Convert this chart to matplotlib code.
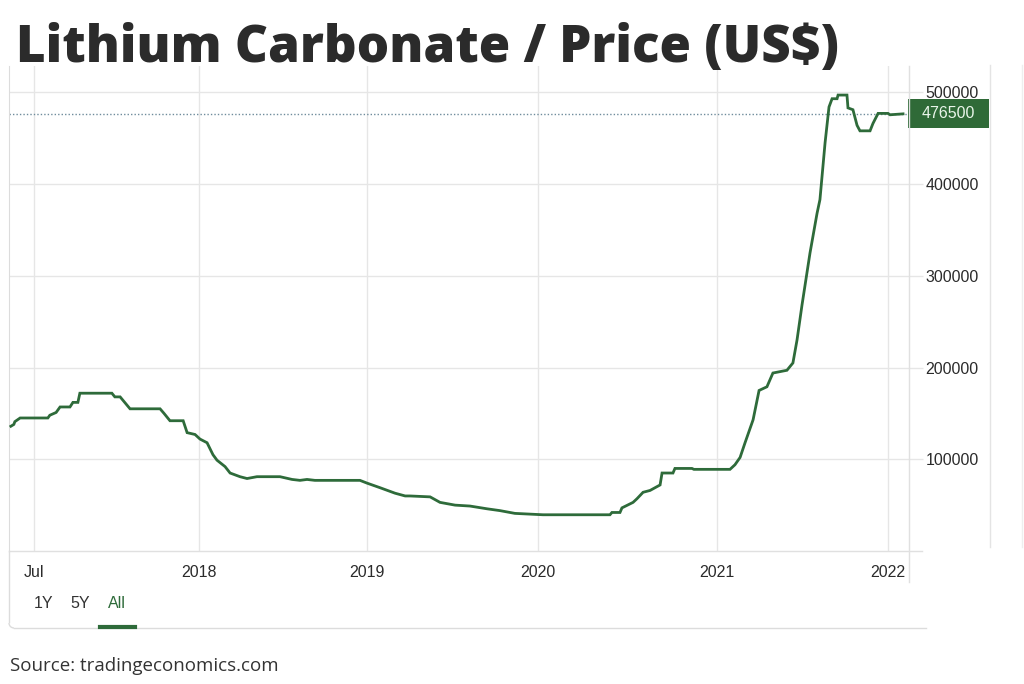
import numpy as np
import matplotlib
matplotlib.use("Agg")
import matplotlib.pyplot as plt
from matplotlib.lines import Line2D
from matplotlib.patches import Rectangle

# ---------------- data ----------------
dates = [2017.430, 2017.439, 2017.442, 2017.458, 2017.542, 2017.548, 2017.567, 2017.579,
         2017.609, 2017.618, 2017.633, 2017.639, 2017.736, 2017.745, 2017.761, 2017.791,
         2017.882, 2017.894, 2017.912, 2017.952, 2017.964, 2017.988, 2018.006, 2018.048,
         2018.083, 2018.107, 2018.155, 2018.185, 2018.244, 2018.286, 2018.345, 2018.482,
         2018.554, 2018.601, 2018.643, 2018.690, 2018.958, 2019.000, 2019.076, 2019.164,
         2019.223, 2019.251, 2019.369, 2019.427, 2019.515, 2019.602, 2019.702, 2019.778,
         2019.865, 2020.028, 2020.402, 2020.413, 2020.458, 2020.469, 2020.531, 2020.553,
         2020.587, 2020.626, 2020.654, 2020.682, 2020.693, 2020.754, 2020.765, 2020.860,
         2020.871, 2021.076, 2021.105, 2021.135, 2021.164, 2021.211, 2021.246, 2021.292,
         2021.327, 2021.409, 2021.444, 2021.468, 2021.497, 2021.544, 2021.585, 2021.602,
         2021.632, 2021.655, 2021.673, 2021.702, 2021.708, 2021.760, 2021.766, 2021.795,
         2021.819, 2021.836, 2021.895, 2021.912, 2021.942, 2022.000, 2022.012, 2022.088]
prices = [136000, 138000, 141000, 145000, 145000, 148000, 151000, 157000,
          157000, 162000, 162000, 172000, 172000, 168000, 168000, 155000,
          155000, 150000, 142000, 142000, 129000, 127000, 122000, 118000,
          105000, 99000, 92000, 85000, 81000, 79000, 81000, 81000,
          78000, 77000, 78000, 77000, 77000, 74000, 69000, 63000,
          60000, 60000, 59000, 53000, 50000, 49000, 46000, 44000,
          41000, 39500, 39500, 42000, 42000, 47000, 53000, 57000,
          64000, 66000, 69000, 72000, 85000, 85000, 90000, 90000,
          89000, 89000, 94000, 102000, 118000, 143000, 175000, 179000,
          194000, 197000, 205000, 230000, 268000, 325000, 368000, 383000,
          445000, 484000, 493000, 493000, 497000, 497000, 483000, 481000,
          464000, 458000, 458000, 466000, 477000, 477000, 475500, 476500]

tick_years = [2017.5, 2018, 2019, 2020, 2021, 2022]
tick_labels = ["Jul", "2018", "2019", "2020", "2021", "2022"]
y_ticks = [100000, 200000, 300000, 400000, 500000]
last_price = 476500
title = "Lithium Carbonate / Price (US$)"
source = "Source: tradingeconomics.com"
ranges = ["1Y", "5Y", "All"]

# chart's (non-uniform) time axis: year -> horizontal position
warp_years = [2016.5, 2017.5, 2018, 2019, 2020, 2021, 2022, 2023]
warp_pos = [-296, 34, 199, 367, 538, 717, 888, 1059]

GREEN = "#2e6b3a"
BOX_GREEN = "#2f6a37"
GRID = "#e6e6e6"
TEXT = "#2b2b2b"
SANS = ["Liberation Sans", "DejaVu Sans"]

W, H = 1024, 684
fig = plt.figure(figsize=(W / 100, H / 100), dpi=100)
fig.patch.set_facecolor("white")


def fx(x):
    return x / W


def fy(y):
    return 1 - y / H


# axes area in pixel coordinates of the reference
L, R, T, B = 9, 909, 66, 551
ax = fig.add_axes([fx(L), fy(B), (R - L) / W, (B - T) / H])

fwd = lambda x: np.interp(x, warp_years, warp_pos)
inv = lambda p: np.interp(p, warp_pos, warp_years)
ax.set_xscale("function", functions=(fwd, inv))

ax.plot(dates, prices, color=GREEN, lw=2.0, solid_joinstyle="miter", zorder=3)

ax.set_xlim(inv(L), inv(R))
ax.set_ylim(0, (B - T) / 0.9174 * 1000)

ax.set_xticks(tick_years)
ax.set_xticklabels(tick_labels)
ax.set_yticks(y_ticks)
ax.set_yticklabels([str(v) for v in y_ticks])
ax.yaxis.tick_right()
ax.grid(True, color=GRID, lw=1)
ax.tick_params(axis="x", length=0, pad=10, labelsize=11.5, labelcolor=TEXT)
ax.tick_params(axis="y", length=10, width=1, color=GRID, pad=2, labelsize=11.5, labelcolor=TEXT)
for lab in ax.get_xticklabels() + ax.get_yticklabels():
    lab.set_family(SANS)
for s in ["top", "right", "bottom"]:
    ax.spines[s].set_visible(False)
ax.spines["left"].set_color("#dcdcdc")

# last value dotted line
ax.axhline(last_price, color="#6f8c9c", lw=1, ls=(0, (1, 1.5)), zorder=2)


# figure-level decorations (pixel coords)
def hline(y, x0, x1, color="#e0e0e0", lw=1):
    fig.add_artist(Line2D([fx(x0), fx(x1)], [fy(y), fy(y)], color=color, lw=lw))


def vline(x, y0, y1, color="#e0e0e0", lw=1):
    fig.add_artist(Line2D([fx(x), fx(x)], [fy(y0), fy(y1)], color=color, lw=lw))


hline(B, L, 922)
vline(R, T, 582)
vline(990, 65, 547, color="#e4e4e4")
vline(1022, 65, 547, color="#eeeeee")
vline(L, B, 622, color="#dcdcdc")
hline(628, 14, 926, color="#dcdcdc")
fig.add_artist(matplotlib.patches.Arc((fx(14), fy(623)), fx(10), 10 / H, theta1=180, theta2=270,
                                      color="#dcdcdc", lw=1))

# price box
ydisp = ax.transData.transform((dates[-1], last_price))[1]
ybox = ydisp / H
fig.add_artist(Rectangle((fx(908), ybox - 14.5 / H), fx(81), 29 / H, fc=BOX_GREEN, ec="none"))
fig.text(fx(948.5), ybox, f"{last_price}", color="#e9f5e9", fontsize=11.5, ha="center", va="center",
         family=SANS)

# range buttons
for lab, x in zip(ranges, [44, 80, 117]):
    fig.text(fx(x), fy(603), lab, ha="center", va="center", fontsize=11.5,
             color=GREEN if lab == "All" else "#333333", family=SANS)
hline(627, 100, 135, color=GREEN, lw=3)

# title fitted to width
t = fig.text(fx(16), fy(62), title, fontsize=40, fontweight=800, family=["Open Sans", "DejaVu Sans"],
             color=TEXT, ha="left", va="baseline")
r = fig.canvas.get_renderer()
w = t.get_window_extent(r).width
t.set_fontsize(40 * 822 / w)

s = fig.text(fx(10), fy(671), source, fontsize=13, family=["Open Sans", "DejaVu Sans"],
             color="#333333", ha="left", va="baseline")
w = s.get_window_extent(r).width
s.set_fontsize(13 * 268 / w)

fig.savefig("out.png", dpi=100)
